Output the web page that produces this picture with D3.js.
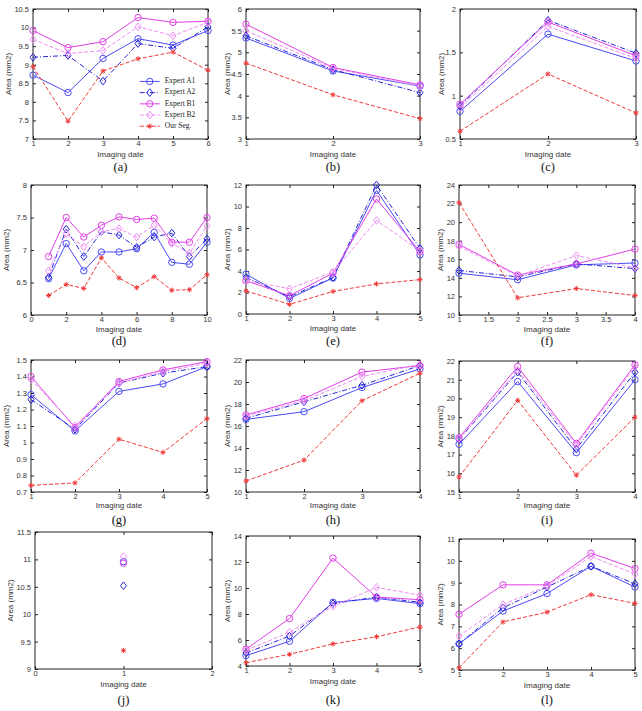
<!DOCTYPE html>
<html><head><meta charset="utf-8">
<script src="https://cdn.jsdelivr.net/npm/d3@7"></script>
<style>body{margin:0;background:#fff}svg{display:block}</style>
</head><body><div id="chart"></div>
<script>
// ---------- DATA ----------
const seriesNames = ["Expert A1","Expert A2","Expert B1","Expert B2","Our Seg."];
const panelIds = ["a","b","c","d","e","f","g","h","i","j","k","l"];

const a_x = [1,2,3,4,5,6];
const a_A1 = [8.72,8.25,9.17,9.70,9.53,9.92];
const a_A2 = [9.20,9.25,8.56,9.57,9.44,10.02];
const a_B1 = [9.92,9.46,9.62,10.27,10.14,10.17];
const a_B2 = [9.68,9.30,9.38,10.02,9.78,10.14];
const a_S  = [8.95,7.48,8.83,9.16,9.34,8.85];
const a_xTicks = [1,2,3,4,5,6];
const a_yTicks = [7,7.5,8,8.5,9,9.5,10,10.5];

const b_x = [1,2,3];
const b_A1 = [5.33,4.57,4.22];
const b_A2 = [5.38,4.60,4.07];
const b_B1 = [5.65,4.65,4.25];
const b_B2 = [5.50,4.63,4.22];
const b_S  = [4.75,4.02,3.47];
const b_xTicks = [1,2,3];
const b_yTicks = [3,3.5,4,4.5,5,5.5,6];

const c_x = [1,2,3];
const c_A1 = [0.82,1.71,1.40];
const c_A2 = [0.88,1.87,1.49];
const c_B1 = [0.90,1.85,1.46];
const c_B2 = [0.86,1.80,1.43];
const c_S  = [0.59,1.25,0.80];
const c_xTicks = [1,2,3];
const c_yTicks = [0.5,1,1.5,2];

const d_x = [1,2,3,4,5,6,7,8,9,10];
const d_A1 = [6.56,7.10,6.68,6.97,6.97,7.02,7.27,6.81,6.78,7.12];
const d_A2 = [6.58,7.32,6.90,7.28,7.23,7.04,7.20,7.26,6.90,7.17];
const d_B1 = [6.90,7.50,7.20,7.38,7.51,7.47,7.49,7.12,7.12,7.50];
const d_B2 = [6.68,7.25,7.05,7.28,7.33,7.20,7.38,7.10,6.95,7.37];
const d_S  = [6.30,6.47,6.41,6.88,6.57,6.42,6.59,6.38,6.39,6.62];
const d_xTicks = [0,2,4,6,8,10];
const d_yTicks = [6,6.5,7,7.5,8];

const e_x = [1,2,3,4,5];
const e_A1 = [3.70,1.45,3.35,11.50,5.50];
const e_A2 = [3.40,1.60,3.40,12.00,6.10];
const e_B1 = [3.10,1.70,3.80,10.70,5.80];
const e_B2 = [3.10,2.35,3.90,8.70,5.90];
const e_S  = [2.15,0.90,2.10,2.80,3.20];
const e_xTicks = [1,2,3,4,5];
const e_yTicks = [0,2,4,6,8,10,12];

const f_x = [1,2,3,4];
const f_A1 = [14.5,13.8,15.4,15.6];
const f_A2 = [14.8,14.1,15.5,15.0];
const f_B1 = [17.6,14.3,15.5,17.1];
const f_B2 = [17.4,14.2,16.4,15.1];
const f_S  = [22.1,11.85,12.85,12.1];
const f_xTicks = [1,1.5,2,2.5,3,3.5,4];
const f_yTicks = [10,12,14,16,18,20,22,24];

const g_x = [1,2,3,4,5];
const g_A1 = [1.29,1.07,1.31,1.355,1.46];
const g_A2 = [1.26,1.08,1.36,1.42,1.46];
const g_B1 = [1.40,1.09,1.37,1.44,1.49];
const g_B2 = [1.38,1.10,1.36,1.43,1.48];
const g_S  = [0.74,0.755,1.02,0.94,1.145];
const g_xTicks = [1,2,3,4,5];
const g_yTicks = [0.7,0.8,0.9,1,1.1,1.2,1.3,1.4,1.5];

const h_x = [1,2,3,4];
const h_A1 = [16.6,17.3,19.5,21.2];
const h_A2 = [16.7,18.2,19.7,21.5];
const h_B1 = [17.0,18.5,20.9,21.5];
const h_B2 = [16.9,18.3,20.5,21.6];
const h_S  = [11.0,12.9,18.3,20.8];
const h_xTicks = [1,2,3,4];
const h_yTicks = [10,12,14,16,18,20,22];

const i_x = [1,2,3,4];
const i_A1 = [17.55,20.9,17.1,21.0];
const i_A2 = [17.8,21.4,17.3,21.4];
const i_B1 = [17.9,21.7,17.6,21.8];
const i_B2 = [17.85,21.5,17.5,21.7];
const i_S  = [15.8,19.9,15.9,19.0];
const i_xTicks = [1,2,3,4];
const i_yTicks = [15,16,17,18,19,20,21,22];

const j_x = [1];
const j_A1 = [10.96];
const j_A2 = [10.52];
const j_B1 = [10.93];
const j_B2 = [11.05];
const j_S  = [9.34];
const j_xTicks = [0,1,2];
const j_yTicks = [9,9.5,10,10.5,11,11.5];

const k_x = [1,2,3,4,5];
const k_A1 = [4.8,5.9,8.9,9.2,8.8];
const k_A2 = [5.0,6.3,8.8,9.3,8.9];
const k_B1 = [5.3,7.65,12.3,9.3,9.1];
const k_B2 = [5.2,6.6,8.6,10.05,9.45];
const k_S  = [4.25,4.9,5.7,6.25,7.0];
const k_xTicks = [1,2,3,4,5];
const k_yTicks = [4,6,8,10,12,14];

const l_x = [1,2,3,4,5];
const l_A1 = [6.2,7.7,8.5,9.75,8.8];
const l_A2 = [6.2,7.85,8.8,9.75,8.95];
const l_B1 = [7.55,8.9,8.9,10.35,9.65];
const l_B2 = [6.55,8.0,8.85,10.2,9.4];
const l_S  = [5.1,7.2,7.65,8.45,8.05];
const l_xTicks = [1,2,3,4,5];
const l_yTicks = [5,6,7,8,9,10,11];

// ---------- ASSEMBLY ----------
const panelData = {
  a:{x:a_x,s:[a_A1,a_A2,a_B1,a_B2,a_S],xt:a_xTicks,yt:a_yTicks},
  b:{x:b_x,s:[b_A1,b_A2,b_B1,b_B2,b_S],xt:b_xTicks,yt:b_yTicks},
  c:{x:c_x,s:[c_A1,c_A2,c_B1,c_B2,c_S],xt:c_xTicks,yt:c_yTicks},
  d:{x:d_x,s:[d_A1,d_A2,d_B1,d_B2,d_S],xt:d_xTicks,yt:d_yTicks},
  e:{x:e_x,s:[e_A1,e_A2,e_B1,e_B2,e_S],xt:e_xTicks,yt:e_yTicks},
  f:{x:f_x,s:[f_A1,f_A2,f_B1,f_B2,f_S],xt:f_xTicks,yt:f_yTicks},
  g:{x:g_x,s:[g_A1,g_A2,g_B1,g_B2,g_S],xt:g_xTicks,yt:g_yTicks},
  h:{x:h_x,s:[h_A1,h_A2,h_B1,h_B2,h_S],xt:h_xTicks,yt:h_yTicks},
  i:{x:i_x,s:[i_A1,i_A2,i_B1,i_B2,i_S],xt:i_xTicks,yt:i_yTicks},
  j:{x:j_x,s:[j_A1,j_A2,j_B1,j_B2,j_S],xt:j_xTicks,yt:j_yTicks},
  k:{x:k_x,s:[k_A1,k_A2,k_B1,k_B2,k_S],xt:k_xTicks,yt:k_yTicks},
  l:{x:l_x,s:[l_A1,l_A2,l_B1,l_B2,l_S],xt:l_xTicks,yt:l_yTicks}
};

// layout (pixels)
const boxes = {
  a:[33,9,208,139],  b:[246,9,420,139],  c:[460,9,636,139],
  d:[31,185,207,315], e:[246,185,420,314], f:[459,185,635,315],
  g:[31,360,207,492], h:[246,360,420,492], i:[459,361,635,492],
  j:[35,532,212,669], k:[246,536,420,666], l:[459,539,635,670]
};
const rowXLabelOff = [16,15,14,16];
const rowCaptionY = [168,342,521,701];

const styles = [
  {color:"#4b4bf5", dash:null, marker:"circle"},
  {color:"#2424d8", dash:"5,2,1,2", marker:"diamond"},
  {color:"#e040e6", dash:null, marker:"circle"},
  {color:"#f08cf5", dash:"4,2", marker:"diamond"},
  {color:"#f03a3a", dash:"4,2", marker:"star"}
];

const W=642, H=711;
const svg = d3.select("#chart").append("svg").attr("width",W).attr("height",H);

function drawMarker(g, type, cx, cy, color){
  if(type==="circle"){
    g.append("circle").attr("cx",cx).attr("cy",cy).attr("r",3.2)
      .attr("fill","none").attr("stroke",color).attr("stroke-width",1);
  } else if(type==="diamond"){
    const r=3.8;
    g.append("path").attr("d",`M${cx},${cy-r}L${cx+r*0.8},${cy}L${cx},${cy+r}L${cx-r*0.8},${cy}Z`)
      .attr("fill","none").attr("stroke",color).attr("stroke-width",1);
  } else {
    const r=2.6;
    const d=`M${cx-r},${cy}L${cx+r},${cy}M${cx},${cy-r}L${cx},${cy+r}M${cx-r*0.7},${cy-r*0.7}L${cx+r*0.7},${cy+r*0.7}M${cx-r*0.7},${cy+r*0.7}L${cx+r*0.7},${cy-r*0.7}`;
    g.append("path").attr("d",d).attr("stroke",color).attr("stroke-width",1).attr("fill","none");
  }
}

panelIds.forEach((id, idx)=>{
  const p = panelData[id];
  const [x0,y0,x1,y1] = boxes[id];
  const col = idx % 3, row = Math.floor(idx/3);
  const xs = d3.scaleLinear().domain(d3.extent(p.xt)).range([x0,x1]);
  const ys = d3.scaleLinear().domain(d3.extent(p.yt)).range([y1,y0]);
  const g = svg.append("g");

  g.append("rect").attr("x",x0).attr("y",y0).attr("width",x1-x0).attr("height",y1-y0)
    .attr("fill","#fff").attr("stroke","#222").attr("stroke-width",1);

  const fmt = v => String(+v.toFixed(3));
  const xb = d3.axisBottom(xs).tickValues(p.xt).tickSizeInner(-3).tickSizeOuter(0).tickPadding(2).tickFormat(fmt);
  const xt = d3.axisTop(xs).tickValues(p.xt).tickSizeInner(-3).tickSizeOuter(0).tickFormat("");
  const yl = d3.axisLeft(ys).tickValues(p.yt).tickSizeInner(-3).tickSizeOuter(0).tickPadding(4).tickFormat(fmt);
  const yr = d3.axisRight(ys).tickValues(p.yt).tickSizeInner(-3).tickSizeOuter(0).tickFormat("");
  [[xb,`translate(0,${y1})`],[xt,`translate(0,${y0})`],[yl,`translate(${x0},0)`],[yr,`translate(${x1},0)`]].forEach(([ax,tr])=>{
    const a = g.append("g").attr("transform",tr).call(ax);
    a.select(".domain").remove();
    a.selectAll("line").attr("stroke","#222");
    a.selectAll("text").attr("font-family","Liberation Sans, Arial, sans-serif").attr("font-size",7.5).attr("fill","#333");
  });

  p.s.forEach((vals, si)=>{
    const st = styles[si];
    const pts = vals.map((v,k)=>[xs(p.x[k]), ys(v)]);
    if(pts.length>1){
      g.append("path").attr("d",d3.line()(pts)).attr("fill","none")
        .attr("stroke",st.color).attr("stroke-width",1)
        .attr("stroke-dasharray",st.dash);
    }
    pts.forEach(([cx,cy])=>drawMarker(g, st.marker, cx, cy, st.color));
  });

  const ylx = col===0 ? x0-24 : x0-18;
  g.append("text").attr("transform",`translate(${ylx},${(y0+y1)/2}) rotate(-90)`)
    .attr("text-anchor","middle").attr("dominant-baseline","middle")
    .attr("font-family","Liberation Sans, Arial, sans-serif").attr("font-size",8).attr("fill","#333")
    .text("Area (mm2)");
  g.append("text").attr("x",(x0+x1)/2).attr("y",y1+rowXLabelOff[row])
    .attr("text-anchor","middle").attr("dominant-baseline","middle")
    .attr("font-family","Liberation Sans, Arial, sans-serif").attr("font-size",8).attr("fill","#333")
    .text("Imaging date");
  g.append("text").attr("x",(x0+x1)/2).attr("y",rowCaptionY[row])
    .attr("text-anchor","middle").attr("dominant-baseline","middle")
    .attr("font-family","Liberation Serif, Times New Roman, serif").attr("font-size",12.5).attr("fill","#111")
    .text(`(${id})`);

  if(id==="a"){
    const lg = g.append("g");
    const lx0 = xs(4.05), ly0 = ys(8.55);
    seriesNames.forEach((nm, si)=>{
      const st = styles[si];
      const yy = ly0 + si*11.2;
      lg.append("line").attr("x1",lx0).attr("x2",lx0+20).attr("y1",yy).attr("y2",yy)
        .attr("stroke",st.color).attr("stroke-width",1).attr("stroke-dasharray",st.dash);
      drawMarker(lg, st.marker, lx0+10, yy, st.color);
      lg.append("text").attr("x",lx0+25).attr("y",yy).attr("dominant-baseline","middle")
        .attr("font-family","Liberation Serif, Times New Roman, serif").attr("font-size",7.5).attr("fill","#222")
        .text(nm);
    });
  }
});
</script>
</body></html>
